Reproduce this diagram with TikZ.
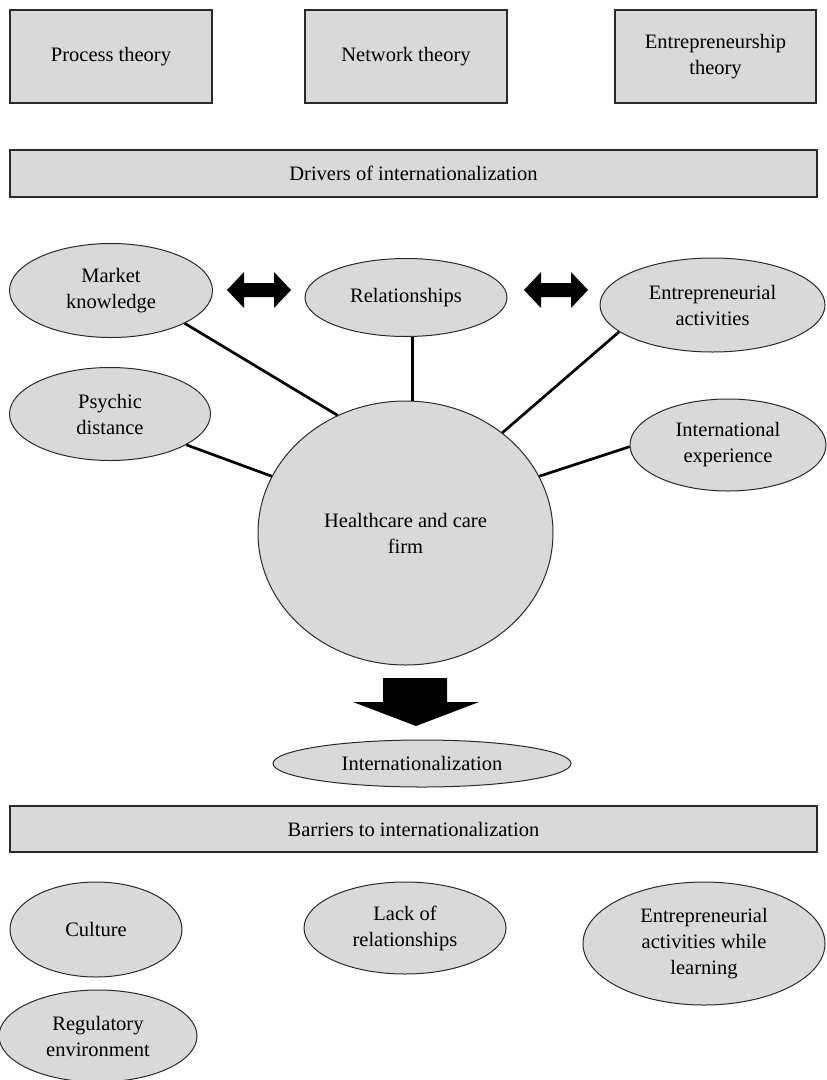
\documentclass[tikz,border=0pt]{standalone}
\usepackage{fontspec}
\setmainfont{Liberation Serif}
\usetikzlibrary{shapes.geometric}
\definecolor{boxgray}{HTML}{D9D9D9}
\definecolor{edgegray}{HTML}{2A2A2A}
\begin{document}
\begin{tikzpicture}[x=1pt,y=-1pt,
  every node/.style={font=\fontsize{20.5}{26}\selectfont, align=center, text=black},
  box/.style={draw=edgegray, line width=1.2pt, fill=boxgray, inner sep=0pt},
  oval/.style={ellipse, draw=edgegray, line width=1pt, fill=boxgray, inner sep=0pt},
  link/.style={line width=2.7pt, draw=black},
  bigarrow/.style={fill=black}]
\useasboundingbox (0,0) rectangle (827,1080);

% theory boxes
\node[box, minimum width=202pt, minimum height=93pt] (pt) at (111,56.5) {Process theory};
\node[box, minimum width=202pt, minimum height=93pt] (nt) at (406,56.5) {Network theory};
\node[box, minimum width=201pt, minimum height=93pt] (et) at (715.5,56.5) {Entrepreneurship\\theory};

% banners
\node[box, minimum width=807pt, minimum height=47pt] (drv) at (413.5,173.5) {Drivers of internationalization};
\node[box, minimum width=807pt, minimum height=46pt] (bar) at (413.5,829) {Barriers to internationalization};

% drivers
\node[oval, minimum width=203pt, minimum height=94pt] (mk) at (111,290.5) {Market\\knowledge};
\node[oval, minimum width=202pt, minimum height=78pt] (rel) at (406,297.5) {Relationships};
\node[oval, minimum width=225pt, minimum height=94pt] (ea) at (712.5,305) {Entrepreneurial\\activities};
\node[oval, minimum width=201pt, minimum height=93pt] (pd) at (110,414) {Psychic\\distance};
\node[oval, minimum width=196pt, minimum height=92pt] (ie) at (728,445) {International\\experience};
\node[oval, minimum width=295pt, minimum height=264pt] (hc) at (405.5,533) {Healthcare and care\\firm};
\node[oval, minimum width=298pt, minimum height=47pt] (int) at (422,763.5) {Internationalization};

% barriers
\node[oval, minimum width=172pt, minimum height=95pt] (cul) at (96,929.5) {Culture};
\node[oval, minimum width=202pt, minimum height=92pt] (lack) at (405,928) {Lack of\\relationships};
\node[oval, minimum width=242pt, minimum height=123pt] (eal) at (704,943.5) {Entrepreneurial\\activities while\\learning};
\node[oval, minimum width=198pt, minimum height=92pt] (reg) at (98,1036) {Regulatory\\environment};

% links to the firm
\draw[link] (mk.-24) -- (hc.120);
\draw[link] (rel.south -| hc.87) -- (hc.87);
\draw[link] (ea.196) -- (hc.46);
\draw[link] (pd.-22) -- (hc.157);
\draw[link] (ie.181) -- (hc.23);

% double arrows
\fill[bigarrow] (227,290) -- (244,272) -- (244,283) -- (274,283) -- (274,272) -- (291,290)
  -- (274,308) -- (274,297) -- (244,297) -- (244,308) -- cycle;
\fill[bigarrow] (524,290) -- (541,272) -- (541,283) -- (571,283) -- (571,272) -- (588,290)
  -- (571,308) -- (571,297) -- (541,297) -- (541,308) -- cycle;

% down arrow
\fill[bigarrow] (383,678) -- (447,678) -- (447,702) -- (479,702) -- (416,726)
  -- (353,702) -- (383,702) -- cycle;
\end{tikzpicture}
\end{document}
